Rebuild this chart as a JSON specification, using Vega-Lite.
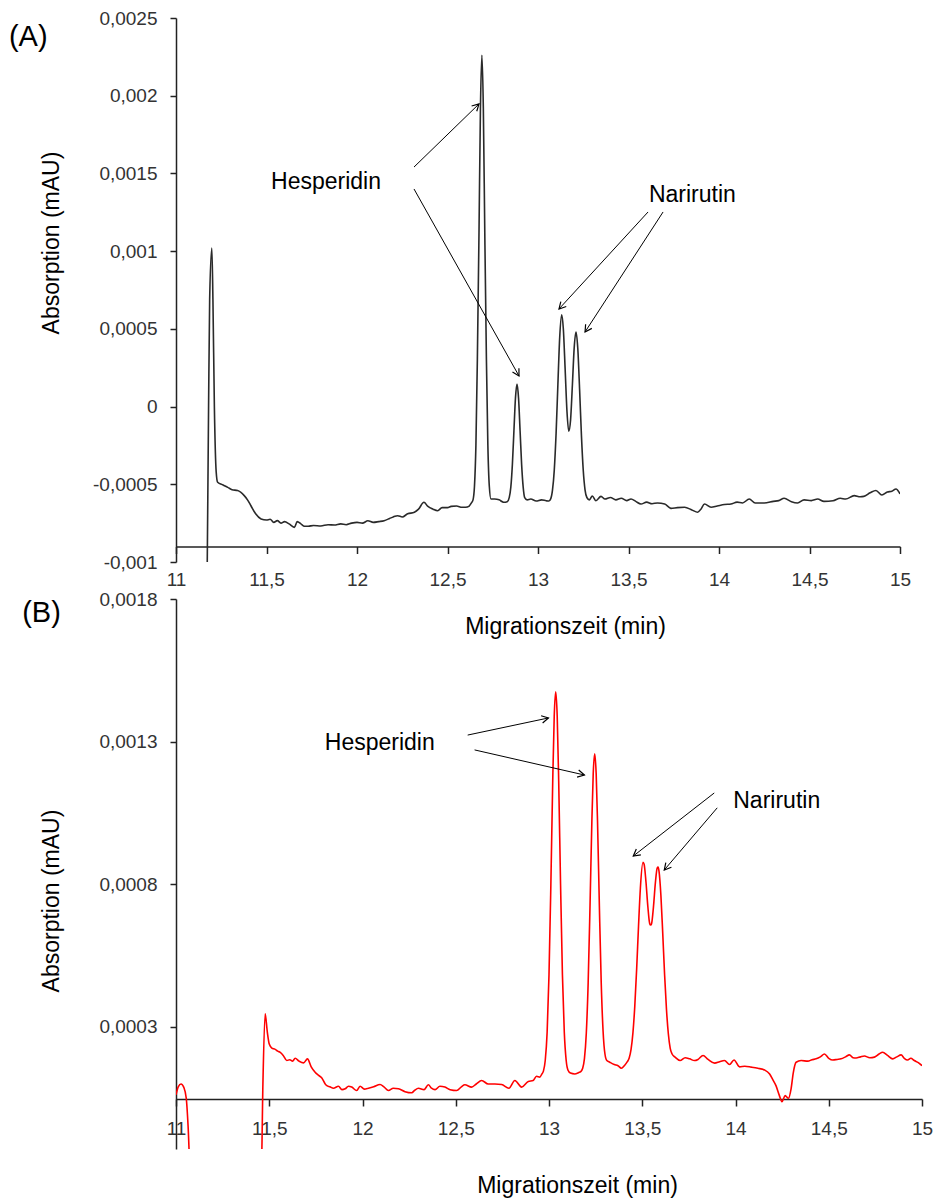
{
  "$schema": "https://vega.github.io/schema/vega-lite/v6.json",
  "background": "white",
  "padding": {"left": 8, "top": 9, "right": 5, "bottom": 5},
  "bounds": "flush",
  "spacing": 37,
  "config": {
    "view": {"stroke": null},
    "font": "Liberation Sans",
    "axis": {
      "grid": false,
      "domainColor": "#222222",
      "domainWidth": 1.5,
      "tickColor": "#222222",
      "tickWidth": 1.5,
      "labelFont": "Liberation Sans",
      "labelFontSize": 19,
      "labelColor": "#333333",
      "labelFlush": false,
      "labelOverlap": false,
      "titleFont": "Liberation Sans",
      "titleFontSize": 23,
      "titleFontWeight": "normal",
      "titleColor": "#000000"
    }
  },
  "datasets": {
    "a": [
      {"t": 11.172, "v": -0.0011}, {"t": 11.18, "v": 0.0}, {"t": 11.186, "v": 0.00069}, {"t": 11.198, "v": 0.00102},
      {"t": 11.204, "v": 0.00069}, {"t": 11.212, "v": 0.0}, {"t": 11.222, "v": -0.00042}, {"t": 11.23, "v": -0.000487},
      {"t": 11.26, "v": -0.000505}, {"t": 11.286, "v": -0.00052}, {"t": 11.31, "v": -0.000535}, {"t": 11.34, "v": -0.00054},
      {"t": 11.377, "v": -0.000573}, {"t": 11.395, "v": -0.0006}, {"t": 11.414, "v": -0.000638}, {"t": 11.44, "v": -0.00069},
      {"t": 11.47, "v": -0.000723}, {"t": 11.5, "v": -0.00073}, {"t": 11.52, "v": -0.000725}, {"t": 11.54, "v": -0.000745},
      {"t": 11.56, "v": -0.000734}, {"t": 11.58, "v": -0.00075}, {"t": 11.6, "v": -0.00074}, {"t": 11.625, "v": -0.000755},
      {"t": 11.654, "v": -0.000777}, {"t": 11.67, "v": -0.00074}, {"t": 11.69, "v": -0.000755}, {"t": 11.71, "v": -0.00077},
      {"t": 11.73, "v": -0.00077}, {"t": 11.76, "v": -0.000765}, {"t": 11.8, "v": -0.000768}, {"t": 11.84, "v": -0.00076},
      {"t": 11.875, "v": -0.000762}, {"t": 11.91, "v": -0.000755}, {"t": 11.94, "v": -0.00076}, {"t": 11.97, "v": -0.00075},
      {"t": 12.0, "v": -0.000745}, {"t": 12.03, "v": -0.00075}, {"t": 12.06, "v": -0.000735}, {"t": 12.09, "v": -0.000745},
      {"t": 12.12, "v": -0.00074}, {"t": 12.15, "v": -0.000734}, {"t": 12.18, "v": -0.00072}, {"t": 12.2, "v": -0.00071},
      {"t": 12.225, "v": -0.000702}, {"t": 12.25, "v": -0.00071}, {"t": 12.28, "v": -0.00069}, {"t": 12.317, "v": -0.00068},
      {"t": 12.34, "v": -0.00066}, {"t": 12.37, "v": -0.000616}, {"t": 12.39, "v": -0.00064}, {"t": 12.42, "v": -0.00066},
      {"t": 12.446, "v": -0.00067}, {"t": 12.47, "v": -0.00065}, {"t": 12.5, "v": -0.00065}, {"t": 12.52, "v": -0.000642},
      {"t": 12.55, "v": -0.00064}, {"t": 12.58, "v": -0.000648}, {"t": 12.6, "v": -0.000648}, {"t": 12.62, "v": -0.00064},
      {"t": 12.632, "v": -0.00062}, {"t": 12.641, "v": -0.0006}, {"t": 12.649, "v": -0.000513}, {"t": 12.657, "v": -0.000248},
      {"t": 12.665, "v": 0.000302}, {"t": 12.674, "v": 0.001119}, {"t": 12.682, "v": 0.001919}, {"t": 12.69, "v": 0.00226},
      {"t": 12.698, "v": 0.001919}, {"t": 12.706, "v": 0.001119}, {"t": 12.715, "v": 0.000302}, {"t": 12.723, "v": -0.000248},
      {"t": 12.731, "v": -0.000513}, {"t": 12.74, "v": -0.000595}, {"t": 12.76, "v": -0.000595}, {"t": 12.785, "v": -0.0006},
      {"t": 12.81, "v": -0.000616}, {"t": 12.83, "v": -0.000612}, {"t": 12.841, "v": -0.000586}, {"t": 12.85, "v": -0.000517},
      {"t": 12.8585, "v": -0.000372}, {"t": 12.867, "v": -0.000156}, {"t": 12.8755, "v": 0.000055}, {"t": 12.884, "v": 0.000145},
      {"t": 12.8925, "v": 0.000055}, {"t": 12.901, "v": -0.000156}, {"t": 12.9095, "v": -0.000372}, {"t": 12.918, "v": -0.000517},
      {"t": 12.9265, "v": -0.000586}, {"t": 12.94, "v": -0.0006}, {"t": 12.96, "v": -0.000595}, {"t": 12.99, "v": -0.000608},
      {"t": 13.02, "v": -0.0006}, {"t": 13.045, "v": -0.000606}, {"t": 13.06, "v": -0.000608}, {"t": 13.07, "v": -0.000594},
      {"t": 13.08, "v": -0.000538}, {"t": 13.09, "v": -0.000407}, {"t": 13.1, "v": -0.000172}, {"t": 13.11, "v": 0.000147},
      {"t": 13.12, "v": 0.000447}, {"t": 13.131, "v": 0.000591}, {"t": 13.14, "v": 0.000499}, {"t": 13.15, "v": 0.00024},
      {"t": 13.16, "v": -0.00003}, {"t": 13.17, "v": -0.000159}, {"t": 13.18, "v": -0.000086}, {"t": 13.19, "v": 0.000139},
      {"t": 13.2, "v": 0.000379}, {"t": 13.21, "v": 0.00048}, {"t": 13.22, "v": 0.00037}, {"t": 13.23, "v": 0.000106},
      {"t": 13.24, "v": -0.000187}, {"t": 13.25, "v": -0.00041}, {"t": 13.26, "v": -0.000537}, {"t": 13.27, "v": -0.000585},
      {"t": 13.284, "v": -0.0006}, {"t": 13.3, "v": -0.000575}, {"t": 13.32, "v": -0.000606}, {"t": 13.348, "v": -0.000578},
      {"t": 13.37, "v": -0.000595}, {"t": 13.4, "v": -0.000585}, {"t": 13.43, "v": -0.0006}, {"t": 13.46, "v": -0.00059},
      {"t": 13.49, "v": -0.000605}, {"t": 13.514, "v": -0.000595}, {"t": 13.54, "v": -0.00061}, {"t": 13.569, "v": -0.000627},
      {"t": 13.6, "v": -0.000615}, {"t": 13.63, "v": -0.000625}, {"t": 13.66, "v": -0.00062}, {"t": 13.7, "v": -0.000627},
      {"t": 13.735, "v": -0.000655}, {"t": 13.77, "v": -0.00065}, {"t": 13.81, "v": -0.000648}, {"t": 13.85, "v": -0.000665},
      {"t": 13.882, "v": -0.00068}, {"t": 13.9, "v": -0.00066}, {"t": 13.92, "v": -0.000627}, {"t": 13.956, "v": -0.000648},
      {"t": 13.99, "v": -0.00064}, {"t": 14.03, "v": -0.00063}, {"t": 14.066, "v": -0.000627}, {"t": 14.1, "v": -0.000615},
      {"t": 14.13, "v": -0.00062}, {"t": 14.167, "v": -0.000595}, {"t": 14.2, "v": -0.00062}, {"t": 14.25, "v": -0.00062},
      {"t": 14.3, "v": -0.00061}, {"t": 14.33, "v": -0.000605}, {"t": 14.36, "v": -0.00059}, {"t": 14.4, "v": -0.000612},
      {"t": 14.434, "v": -0.00062}, {"t": 14.47, "v": -0.0006}, {"t": 14.51, "v": -0.000605}, {"t": 14.545, "v": -0.000595},
      {"t": 14.58, "v": -0.00061}, {"t": 14.63, "v": -0.000606}, {"t": 14.67, "v": -0.00059}, {"t": 14.7, "v": -0.000595},
      {"t": 14.747, "v": -0.000573}, {"t": 14.78, "v": -0.00058}, {"t": 14.8, "v": -0.000578}, {"t": 14.835, "v": -0.000555},
      {"t": 14.867, "v": -0.00054}, {"t": 14.9, "v": -0.000569}, {"t": 14.93, "v": -0.00055}, {"t": 14.955, "v": -0.000545},
      {"t": 14.978, "v": -0.00053}, {"t": 15.0, "v": -0.000562}
    ],
    "b": [
      {"t": 11.0, "v": 0.000062}, {"t": 11.012, "v": 0.00009}, {"t": 11.027, "v": 0.0001}, {"t": 11.042, "v": 0.000088},
      {"t": 11.055, "v": 0.00005}, {"t": 11.065, "v": -0.00005}, {"t": 11.075, "v": -0.0002}, {"t": 11.1, "v": -0.0003},
      {"t": 11.44, "v": -0.0003}, {"t": 11.458, "v": -0.0002}, {"t": 11.466, "v": 0.0001}, {"t": 11.478, "v": 0.000346},
      {"t": 11.49, "v": 0.00028}, {"t": 11.5, "v": 0.00024}, {"t": 11.514, "v": 0.000226}, {"t": 11.53, "v": 0.000222},
      {"t": 11.545, "v": 0.000215}, {"t": 11.559, "v": 0.000211}, {"t": 11.575, "v": 0.0002}, {"t": 11.594, "v": 0.000182},
      {"t": 11.61, "v": 0.000185}, {"t": 11.625, "v": 0.00018}, {"t": 11.639, "v": 0.00019}, {"t": 11.66, "v": 0.00018},
      {"t": 11.684, "v": 0.000174}, {"t": 11.705, "v": 0.000188}, {"t": 11.725, "v": 0.00016}, {"t": 11.746, "v": 0.000141},
      {"t": 11.765, "v": 0.00013}, {"t": 11.782, "v": 0.000121}, {"t": 11.8, "v": 0.0001}, {"t": 11.809, "v": 0.000094},
      {"t": 11.825, "v": 0.00009}, {"t": 11.844, "v": 0.000085}, {"t": 11.871, "v": 0.000092}, {"t": 11.89, "v": 0.00008},
      {"t": 11.907, "v": 0.000083}, {"t": 11.925, "v": 0.000092}, {"t": 11.942, "v": 0.000089}, {"t": 11.969, "v": 0.000077},
      {"t": 11.987, "v": 0.000092}, {"t": 12.01, "v": 0.000082}, {"t": 12.032, "v": 0.000085}, {"t": 12.06, "v": 0.00009},
      {"t": 12.094, "v": 0.000098}, {"t": 12.115, "v": 0.00009}, {"t": 12.139, "v": 0.000077}, {"t": 12.165, "v": 0.000085},
      {"t": 12.193, "v": 0.000083}, {"t": 12.228, "v": 0.000073}, {"t": 12.264, "v": 0.000069}, {"t": 12.28, "v": 0.000078},
      {"t": 12.3, "v": 0.000085}, {"t": 12.33, "v": 0.00008}, {"t": 12.353, "v": 0.000097}, {"t": 12.37, "v": 0.000085},
      {"t": 12.389, "v": 0.00008}, {"t": 12.415, "v": 0.000092}, {"t": 12.442, "v": 0.000089}, {"t": 12.47, "v": 0.00008},
      {"t": 12.505, "v": 0.000077}, {"t": 12.53, "v": 0.00009}, {"t": 12.549, "v": 0.000097}, {"t": 12.585, "v": 0.000089},
      {"t": 12.61, "v": 0.0001}, {"t": 12.639, "v": 0.000112}, {"t": 12.674, "v": 0.0001}, {"t": 12.71, "v": 0.0001},
      {"t": 12.746, "v": 0.000098}, {"t": 12.785, "v": 0.000085}, {"t": 12.817, "v": 0.000112}, {"t": 12.853, "v": 0.000089},
      {"t": 12.889, "v": 0.000109}, {"t": 12.915, "v": 0.000112}, {"t": 12.933, "v": 0.000127}, {"t": 12.951, "v": 0.000124},
      {"t": 12.96, "v": 0.000133}, {"t": 12.97, "v": 0.000145}, {"t": 12.98, "v": 0.000183}, {"t": 12.99, "v": 0.000281},
      {"t": 13.0, "v": 0.000483}, {"t": 13.01, "v": 0.000799}, {"t": 13.02, "v": 0.001162}, {"t": 13.028, "v": 0.001389},
      {"t": 13.036, "v": 0.001475}, {"t": 13.044, "v": 0.001389}, {"t": 13.052, "v": 0.001162}, {"t": 13.062, "v": 0.000799},
      {"t": 13.072, "v": 0.000483}, {"t": 13.082, "v": 0.000281}, {"t": 13.092, "v": 0.000183}, {"t": 13.102, "v": 0.000148},
      {"t": 13.115, "v": 0.000138}, {"t": 13.138, "v": 0.000135}, {"t": 13.16, "v": 0.00014}, {"t": 13.17, "v": 0.000143},
      {"t": 13.18, "v": 0.000154}, {"t": 13.19, "v": 0.000189}, {"t": 13.2, "v": 0.000278}, {"t": 13.21, "v": 0.000455},
      {"t": 13.22, "v": 0.000726}, {"t": 13.23, "v": 0.001025}, {"t": 13.237, "v": 0.001186}, {"t": 13.245, "v": 0.001257},
      {"t": 13.253, "v": 0.001186}, {"t": 13.26, "v": 0.001025}, {"t": 13.27, "v": 0.000726}, {"t": 13.28, "v": 0.000455},
      {"t": 13.29, "v": 0.000285}, {"t": 13.3, "v": 0.000205}, {"t": 13.31, "v": 0.000182}, {"t": 13.326, "v": 0.000176},
      {"t": 13.35, "v": 0.000168}, {"t": 13.37, "v": 0.000164}, {"t": 13.388, "v": 0.000155}, {"t": 13.405, "v": 0.000165},
      {"t": 13.42, "v": 0.000178}, {"t": 13.43, "v": 0.000191}, {"t": 13.44, "v": 0.000221}, {"t": 13.45, "v": 0.000279},
      {"t": 13.46, "v": 0.000373}, {"t": 13.47, "v": 0.000503}, {"t": 13.48, "v": 0.000653}, {"t": 13.49, "v": 0.000787},
      {"t": 13.504, "v": 0.000877}, {"t": 13.51, "v": 0.00087}, {"t": 13.52, "v": 0.000808}, {"t": 13.53, "v": 0.000722},
      {"t": 13.54, "v": 0.000662}, {"t": 13.545, "v": 0.000657}, {"t": 13.55, "v": 0.000662}, {"t": 13.56, "v": 0.00072},
      {"t": 13.57, "v": 0.000802}, {"t": 13.58, "v": 0.000857}, {"t": 13.585, "v": 0.00086}, {"t": 13.59, "v": 0.000845},
      {"t": 13.6, "v": 0.000761}, {"t": 13.61, "v": 0.000626}, {"t": 13.62, "v": 0.000481}, {"t": 13.63, "v": 0.00036},
      {"t": 13.64, "v": 0.000275}, {"t": 13.65, "v": 0.000225}, {"t": 13.66, "v": 0.000205}, {"t": 13.676, "v": 0.000194},
      {"t": 13.703, "v": 0.000182}, {"t": 13.73, "v": 0.000192}, {"t": 13.754, "v": 0.000188}, {"t": 13.78, "v": 0.000182},
      {"t": 13.799, "v": 0.000186}, {"t": 13.826, "v": 0.0002}, {"t": 13.853, "v": 0.000186}, {"t": 13.888, "v": 0.000173},
      {"t": 13.915, "v": 0.000178}, {"t": 13.941, "v": 0.000182}, {"t": 13.968, "v": 0.000168}, {"t": 13.992, "v": 0.000184},
      {"t": 14.022, "v": 0.00016}, {"t": 14.05, "v": 0.000162}, {"t": 14.084, "v": 0.000159}, {"t": 14.12, "v": 0.000155},
      {"t": 14.156, "v": 0.000149}, {"t": 14.183, "v": 0.000135}, {"t": 14.2, "v": 0.000115}, {"t": 14.217, "v": 0.000094},
      {"t": 14.235, "v": 0.00006}, {"t": 14.249, "v": 0.000038}, {"t": 14.266, "v": 0.000059}, {"t": 14.284, "v": 0.00005},
      {"t": 14.298, "v": 0.000083}, {"t": 14.31, "v": 0.00014}, {"t": 14.325, "v": 0.000176}, {"t": 14.352, "v": 0.000182},
      {"t": 14.388, "v": 0.00018}, {"t": 14.41, "v": 0.000185}, {"t": 14.432, "v": 0.000188}, {"t": 14.455, "v": 0.000195},
      {"t": 14.477, "v": 0.000205}, {"t": 14.5, "v": 0.00019}, {"t": 14.522, "v": 0.000184}, {"t": 14.545, "v": 0.000186},
      {"t": 14.566, "v": 0.000188}, {"t": 14.59, "v": 0.000195}, {"t": 14.611, "v": 0.000202}, {"t": 14.63, "v": 0.000192},
      {"t": 14.647, "v": 0.000191}, {"t": 14.67, "v": 0.000195}, {"t": 14.691, "v": 0.000198}, {"t": 14.72, "v": 0.000192},
      {"t": 14.745, "v": 0.000194}, {"t": 14.77, "v": 0.000205}, {"t": 14.789, "v": 0.000211}, {"t": 14.815, "v": 0.0002},
      {"t": 14.843, "v": 0.000188}, {"t": 14.865, "v": 0.000195}, {"t": 14.888, "v": 0.000202}, {"t": 14.905, "v": 0.00019},
      {"t": 14.923, "v": 0.000184}, {"t": 14.94, "v": 0.00019}, {"t": 14.959, "v": 0.000182}, {"t": 14.98, "v": 0.000175},
      {"t": 15.0, "v": 0.000164}
    ],
    "labA": [
      {"t": 11.525, "v": 0.0014, "label": "Hesperidin"},
      {"t": 13.613, "v": 0.001318, "label": "Narirutin"}
    ],
    "panA": [{"t": 10.077, "v": 0.002322, "label": "(A)"}],
    "arrA": [
      {"t": 12.315, "v": 0.001541, "t2": 12.674, "v2": 0.001947, "ang": -44.1},
      {"t": 12.315, "v": 0.0014, "t2": 12.895, "v2": 0.000197, "ang": 60.7},
      {"t": 13.608, "v": 0.001252, "t2": 13.116, "v2": 0.000628, "ang": 132.5},
      {"t": 13.691, "v": 0.001252, "t2": 13.26, "v2": 0.00048, "ang": 123}
    ],
    "labB": [
      {"t": 11.798, "v": 0.001272, "label": "Hesperidin"},
      {"t": 13.988, "v": 0.001068, "label": "Narirutin"}
    ],
    "panB": [{"t": 10.175, "v": 0.001719, "label": "(B)"}],
    "arrB": [
      {"t": 12.564, "v": 0.001323, "t2": 12.997, "v2": 0.001383, "ang": -11.9},
      {"t": 12.601, "v": 0.001271, "t2": 13.19, "v2": 0.001183, "ang": 12.8},
      {"t": 13.886, "v": 0.00112, "t2": 13.452, "v2": 0.000899, "ang": 142.1},
      {"t": 13.902, "v": 0.001068, "t2": 13.618, "v2": 0.00085, "ang": 130.5}
    ]
  },
  "vconcat": [
    {
      "width": 724,
      "height": 544,
      "layer": [
        {
          "data": {"name": "a"},
          "mark": {"type": "line", "clip": true, "color": "#2a2a2a", "strokeWidth": 1.6, "interpolate": "monotone"},
          "encoding": {
            "x": {
              "field": "t", "type": "quantitative",
              "scale": {"domain": [11, 15], "nice": false, "zero": false},
              "axis": {
                "title": "Migrationszeit (min)",
                "values": [11, 11.5, 12, 12.5, 13, 13.5, 14, 14.5, 15],
                "labelExpr": "replace(toString(datum.value), '.', ',')",
                "offset": -15.5, "tickSize": 7, "labelPadding": 17,
                "titleX": 389, "titleY": 87, "titleBaseline": "alphabetic"
              }
            },
            "y": {
              "field": "v", "type": "quantitative",
              "scale": {"domain": [-0.001, 0.0025], "nice": false, "zero": false},
              "axis": {
                "title": "Absorption (mAU)",
                "values": [-0.001, -0.0005, 0, 0.0005, 0.001, 0.0015, 0.002, 0.0025],
                "labelExpr": "replace(toString(datum.value), '.', ',')",
                "tickSize": 6, "labelPadding": 13,
                "titleX": -118, "titleY": 224.5, "titleBaseline": "alphabetic"
              }
            }
          }
        },
        {
          "data": {"name": "arrA"},
          "mark": {"type": "rule", "color": "#000000", "strokeWidth": 1},
          "encoding": {
            "x": {"field": "t", "type": "quantitative"},
            "y": {"field": "v", "type": "quantitative"},
            "x2": {"field": "t2"},
            "y2": {"field": "v2"}
          }
        },
        {
          "data": {"name": "arrA"},
          "mark": {"type": "point", "shape": "M-1,-0.55L0,0L-1,0.55", "filled": false, "color": "#000000", "strokeWidth": 1.2, "size": 180, "opacity": 1},
          "encoding": {
            "x": {"field": "t2", "type": "quantitative"},
            "y": {"field": "v2", "type": "quantitative"},
            "angle": {"field": "ang", "type": "quantitative", "scale": null}
          }
        },
        {
          "data": {"name": "labA"},
          "mark": {"type": "text", "align": "left", "baseline": "alphabetic", "fontSize": 23, "color": "#000000", "font": "Liberation Sans"},
          "encoding": {
            "x": {"field": "t", "type": "quantitative"},
            "y": {"field": "v", "type": "quantitative"},
            "text": {"field": "label"}
          }
        },
        {
          "data": {"name": "panA"},
          "mark": {"type": "text", "align": "left", "baseline": "alphabetic", "fontSize": 29, "color": "#000000", "font": "Liberation Sans"},
          "encoding": {
            "x": {"field": "t", "type": "quantitative"},
            "y": {"field": "v", "type": "quantitative"},
            "text": {"field": "label"}
          }
        }
      ]
    },
    {
      "width": 746,
      "height": 550,
      "layer": [
        {
          "data": {"name": "b"},
          "mark": {"type": "line", "clip": true, "color": "#ff0000", "strokeWidth": 1.6, "interpolate": "monotone"},
          "encoding": {
            "x": {
              "field": "t", "type": "quantitative",
              "scale": {"domain": [11, 15], "nice": false, "zero": false},
              "axis": {
                "title": "Migrationszeit (min)",
                "values": [11, 11.5, 12, 12.5, 13, 13.5, 14, 14.5, 15],
                "labelExpr": "replace(toString(datum.value), '.', ',')",
                "offset": -50, "tickSize": 7, "labelPadding": 13,
                "titleX": 401, "titleY": 93, "titleBaseline": "alphabetic"
              }
            },
            "y": {
              "field": "v", "type": "quantitative",
              "scale": {"domain": [-0.000128, 0.0018], "nice": false, "zero": false},
              "axis": {
                "title": "Absorption (mAU)",
                "values": [0.0003, 0.0008, 0.0013, 0.0018],
                "labelExpr": "replace(toString(datum.value), '.', ',')",
                "tickSize": 6, "labelPadding": 13,
                "titleX": -118, "titleY": 301.5, "titleBaseline": "alphabetic"
              }
            }
          }
        },
        {
          "data": {"name": "arrB"},
          "mark": {"type": "rule", "color": "#000000", "strokeWidth": 1},
          "encoding": {
            "x": {"field": "t", "type": "quantitative"},
            "y": {"field": "v", "type": "quantitative"},
            "x2": {"field": "t2"},
            "y2": {"field": "v2"}
          }
        },
        {
          "data": {"name": "arrB"},
          "mark": {"type": "point", "shape": "M-1,-0.55L0,0L-1,0.55", "filled": false, "color": "#000000", "strokeWidth": 1.2, "size": 180, "opacity": 1},
          "encoding": {
            "x": {"field": "t2", "type": "quantitative"},
            "y": {"field": "v2", "type": "quantitative"},
            "angle": {"field": "ang", "type": "quantitative", "scale": null}
          }
        },
        {
          "data": {"name": "labB"},
          "mark": {"type": "text", "align": "left", "baseline": "alphabetic", "fontSize": 23, "color": "#000000", "font": "Liberation Sans"},
          "encoding": {
            "x": {"field": "t", "type": "quantitative"},
            "y": {"field": "v", "type": "quantitative"},
            "text": {"field": "label"}
          }
        },
        {
          "data": {"name": "panB"},
          "mark": {"type": "text", "align": "left", "baseline": "alphabetic", "fontSize": 29, "color": "#000000", "font": "Liberation Sans"},
          "encoding": {
            "x": {"field": "t", "type": "quantitative"},
            "y": {"field": "v", "type": "quantitative"},
            "text": {"field": "label"}
          }
        }
      ]
    }
  ]
}
